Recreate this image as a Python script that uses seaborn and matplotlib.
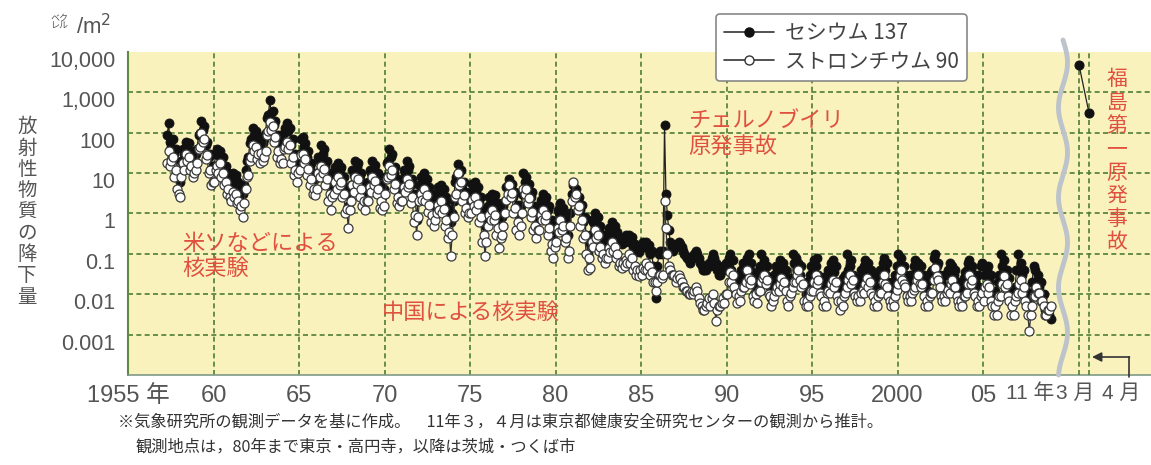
import numpy as np
import pandas as pd
import seaborn as sns
import matplotlib.pyplot as plt
from matplotlib.lines import Line2D
from matplotlib import transforms
from matplotlib.ticker import NullLocator

# 月別降下量 (1957年4月〜2008年12月)
years = list(range(1957, 2009))
first_month = 4

# セシウム137 (Bq/m2)
cs137_1950s = [90, 170, 60, 45, 70, 30, 40, 12, 8,
               6, 20, 40, 30, 60, 40, 55, 30, 35, 20, 25, 30,
               40, 90, 100, 200, 120, 150, 50, 60, 25, 30, 12, 15]
cs137_1960s = [15, 30, 40, 28, 35, 20, 25, 12, 15, 8, 10, 6,
               6, 10, 7, 9, 5, 6, 3.5, 4.5, 3, 5, 12, 20,
               25, 55, 70, 130, 90, 110, 60, 75, 45, 80, 55, 70,
               100, 230, 280, 630, 300, 350, 160, 200, 70, 90, 45, 60,
               45, 100, 130, 170, 110, 130, 50, 70, 25, 30, 15, 25,
               30, 70, 80, 45, 55, 25, 35, 15, 18, 8, 10, 7,
               10, 25, 20, 50, 30, 40, 15, 20, 7, 10, 5, 8,
               8, 14, 10, 18, 12, 14, 6, 8, 3, 4, 1.5, 3,
               5, 12, 9, 20, 14, 18, 7, 10, 4, 5, 3, 5,
               6, 12, 10, 20, 13, 16, 8, 10, 3.5, 5, 2.5, 4]
cs137_1970s = [8, 18, 20, 40, 25, 30, 10, 14, 5, 7, 4, 6,
               6, 12, 10, 20, 12, 15, 5, 7, 2, 3, 0.7, 2,
               5, 8, 6, 10, 5, 7, 3, 4.5, 2, 3, 1.5, 2.5,
               3, 4.5, 3.5, 5, 3, 4, 1.8, 2.5, 1, 1.3, 0.6, 1,
               2, 6, 8, 17, 10, 12, 4, 6, 2.5, 3.5, 2, 3,
               3, 5.5, 4, 6, 3.5, 4.5, 1.8, 2.5, 0.9, 1.2, 0.5, 0.8,
               1.5, 2.5, 2, 3, 2, 2.8, 1.2, 1.8, 0.6, 1, 0.8, 1.5,
               2, 4.5, 5, 7, 4, 5.5, 2.5, 3.5, 1.2, 1.6, 0.9, 1.5,
               3, 10, 6, 8, 4, 5.5, 2.5, 3.5, 1.2, 1.5, 0.8, 1,
               1, 2.2, 1.8, 3, 2, 2.5, 1.2, 1.5, 0.5, 0.7, 0.3, 0.5]
cs137_1980s = [0.5, 1.2, 1, 1.8, 1.1, 1.4, 0.5, 0.7, 0.3, 0.5, 1, 3,
               5, 3, 4, 2, 2.5, 1.2, 1.6, 0.6, 0.8, 0.3, 0.1, 0.2,
               0.3, 0.7, 0.6, 1, 0.7, 0.8, 0.4, 0.5, 0.25, 0.3, 0.2, 0.3,
               0.3, 0.45, 0.4, 0.6, 0.4, 0.5, 0.3, 0.35, 0.2, 0.25, 0.18, 0.25,
               0.2, 0.3, 0.22, 0.3, 0.2, 0.26, 0.15, 0.18, 0.12, 0.15, 0.11, 0.15,
               0.15, 0.2, 0.16, 0.2, 0.14, 0.17, 0.1, 0.12, 0.05, 0.04, 0.008, 0.05,
               0.1, 0.12, 0.1, 0.12, 155, 3, 0.9, 0.4, 0.2, 0.15, 0.12, 0.15,
               0.15, 0.18, 0.2, 0.18, 0.15, 0.12, 0.1, 0.09, 0.08, 0.07, 0.06, 0.08,
               0.08, 0.1, 0.12, 0.1, 0.08, 0.06, 0.05, 0.04, 0.04, 0.04, 0.05, 0.06,
               0.05, 0.08, 0.1, 0.08, 0.06, 0.04, 0.03, 0.03, 0.04, 0.05, 0.04, 0.06]
cs137_1990s = [0.05, 0.08, 0.1, 0.04, 0.07, 0.03, 0.02, 0.012, 0.03, 0.02, 0.04, 0.06,
               0.06, 0.03, 0.08, 0.1, 0.04, 0.06, 0.02, 0.01, 0.03, 0.015, 0.04, 0.05,
               0.1, 0.05, 0.07, 0.03, 0.05, 0.02, 0.015, 0.008, 0.02, 0.03, 0.05, 0.04,
               0.04, 0.07, 0.05, 0.06, 0.03, 0.04, 0.015, 0.012, 0.025, 0.02, 0.1, 0.06,
               0.08, 0.04, 0.06, 0.03, 0.05, 0.02, 0.015, 0.01, 0.02, 0.015, 0.03, 0.05,
               0.04, 0.07, 0.05, 0.08, 0.03, 0.025, 0.015, 0.012, 0.025, 0.015, 0.03, 0.04,
               0.03, 0.06, 0.07, 0.035, 0.05, 0.02, 0.015, 0.008, 0.02, 0.025, 0.015, 0.03,
               0.1, 0.04, 0.05, 0.07, 0.03, 0.025, 0.012, 0.02, 0.015, 0.025, 0.04, 0.03,
               0.05, 0.07, 0.04, 0.06, 0.03, 0.04, 0.015, 0.01, 0.025, 0.015, 0.03, 0.04,
               0.03, 0.06, 0.08, 0.04, 0.06, 0.02, 0.012, 0.008, 0.02, 0.01, 0.03, 0.05]
cs137_2000s = [0.1, 0.05, 0.08, 0.04, 0.05, 0.03, 0.02, 0.012, 0.03, 0.015, 0.03, 0.05,
               0.07, 0.04, 0.06, 0.03, 0.05, 0.02, 0.03, 0.01, 0.02, 0.012, 0.025, 0.035,
               0.04, 0.08, 0.1, 0.05, 0.06, 0.03, 0.02, 0.012, 0.03, 0.015, 0.03, 0.04,
               0.06, 0.04, 0.05, 0.03, 0.04, 0.015, 0.02, 0.01, 0.015, 0.01, 0.025, 0.035,
               0.04, 0.06, 0.07, 0.04, 0.05, 0.03, 0.02, 0.01, 0.03, 0.015, 0.05, 0.06,
               0.05, 0.03, 0.04, 0.05, 0.02, 0.03, 0.012, 0.007, 0.012, 0.008, 0.02, 0.03,
               0.1, 0.05, 0.07, 0.03, 0.04, 0.015, 0.025, 0.007, 0.012, 0.01, 0.015, 0.04,
               0.1, 0.04, 0.06, 0.03, 0.04, 0.015, 0.012, 0.006, 0.008, 0.01, 0.02, 0.05,
               0.04, 0.02, 0.03, 0.015, 0.02, 0.008, 0.01, 0.004, 0.005, 0.003, 0.003, 0.0025]

# ストロンチウム90 (Bq/m2)
sr90_1950s = [18, 35, 15, 20, 25, 8, 12, 4, 3,
              2.5, 8, 18, 12, 30, 20, 25, 12, 15, 8, 10, 12,
              18, 40, 45, 100, 60, 70, 22, 28, 10, 12, 5, 6]
sr90_1960s = [6, 12, 15, 10, 18, 8, 10, 5, 6, 3, 4, 2.5,
              2, 3.5, 2.5, 3, 1.8, 2, 1.2, 1.5, 0.8, 1.8, 4, 8,
              9, 20, 25, 50, 35, 45, 22, 30, 18, 32, 20, 25,
              35, 90, 110, 180, 120, 150, 60, 80, 25, 35, 18, 22,
              18, 40, 45, 60, 40, 50, 18, 25, 9, 12, 6, 10,
              12, 28, 30, 18, 22, 9, 13, 5, 7, 3, 4, 2.8,
              4, 10, 8, 15, 10, 13, 5, 7, 2, 3, 1.2, 2.5,
              3, 6, 4, 8, 5, 6, 2.5, 3, 1, 1.3, 0.45, 1.2,
              2, 5, 3.5, 8, 5.5, 7, 2.5, 4, 1.5, 2, 1.2, 2,
              2, 4.5, 3.5, 8, 5, 6.5, 3, 4, 1.4, 2, 1.2, 1.5]
sr90_1970s = [3, 7, 8, 15, 9, 12, 4, 5.5, 1.8, 2.5, 1.5, 2,
              2, 4.5, 3.5, 7, 4.5, 5.5, 1.8, 2.5, 0.6, 0.9, 0.3, 0.8,
              2, 3, 2.2, 4, 2, 2.8, 1.1, 1.6, 0.6, 0.9, 0.5, 0.7,
              1, 1.6, 1.2, 2, 1, 1.3, 0.5, 0.7, 0.25, 0.35, 0.09, 0.3,
              0.8, 2.5, 3, 10, 5, 6, 2, 2.8, 1, 1.4, 0.8, 1,
              1, 2.2, 1.5, 2.5, 1.2, 1.7, 0.6, 0.8, 0.2, 0.3, 0.09, 0.2,
              0.5, 0.9, 0.7, 1.2, 0.7, 0.9, 0.3, 0.45, 0.14, 0.25, 0.3, 0.5,
              1, 2.2, 3, 5, 2.5, 3.2, 1, 1.4, 0.4, 0.6, 0.3, 0.5,
              1, 4, 3, 4, 1.8, 2.4, 0.8, 1.1, 0.4, 0.5, 0.25, 0.4,
              0.4, 0.9, 0.7, 1.2, 0.7, 0.9, 0.3, 0.45, 0.12, 0.18, 0.08, 0.15]
sr90_1980s = [0.2, 0.45, 0.35, 0.7, 0.4, 0.5, 0.2, 0.25, 0.08, 0.12, 0.5, 2,
              6, 2.5, 3, 1.2, 1.5, 0.5, 0.7, 0.25, 0.3, 0.1, 0.04, 0.08,
              0.045, 0.2, 0.15, 0.4, 0.25, 0.3, 0.12, 0.15, 0.08, 0.1, 0.06, 0.08,
              0.08, 0.14, 0.11, 0.2, 0.12, 0.15, 0.08, 0.1, 0.05, 0.06, 0.045, 0.06,
              0.05, 0.07, 0.06, 0.1, 0.06, 0.08, 0.04, 0.05, 0.03, 0.04, 0.028, 0.04,
              0.03, 0.045, 0.04, 0.06, 0.04, 0.05, 0.03, 0.035, 0.02, 0.02, 0.012, 0.02,
              0.03, 0.03, 0.025, 0.03, 2, 0.45, 0.1, 0.05, 0.04, 0.03, 0.03, 0.03,
              0.02, 0.025, 0.03, 0.025, 0.02, 0.015, 0.015, 0.012, 0.012, 0.01, 0.01, 0.012,
              0.01, 0.012, 0.015, 0.012, 0.008, 0.006, 0.005, 0.004, 0.004, 0.005, 0.006, 0.008,
              0.005, 0.008, 0.01, 0.006, 0.0022, 0.004, 0.005, 0.005, 0.006, 0.008, 0.006, 0.01]
sr90_1990s = [0.01, 0.02, 0.035, 0.02, 0.03, 0.015, 0.01, 0.006, 0.009, 0.007, 0.012, 0.015,
              0.015, 0.02, 0.04, 0.025, 0.018, 0.022, 0.009, 0.007, 0.01, 0.006, 0.012, 0.012,
              0.02, 0.025, 0.03, 0.018, 0.022, 0.01, 0.009, 0.005, 0.007, 0.009, 0.012, 0.015,
              0.012, 0.018, 0.025, 0.015, 0.02, 0.012, 0.007, 0.005, 0.009, 0.011, 0.015, 0.02,
              0.02, 0.03, 0.04, 0.022, 0.015, 0.018, 0.007, 0.005, 0.007, 0.005, 0.009, 0.012,
              0.012, 0.02, 0.03, 0.018, 0.022, 0.011, 0.009, 0.005, 0.007, 0.005, 0.011, 0.012,
              0.011, 0.018, 0.022, 0.015, 0.02, 0.009, 0.007, 0.004, 0.007, 0.005, 0.009, 0.011,
              0.015, 0.022, 0.03, 0.018, 0.022, 0.011, 0.009, 0.007, 0.009, 0.007, 0.011, 0.013,
              0.011, 0.018, 0.025, 0.015, 0.02, 0.011, 0.009, 0.005, 0.007, 0.005, 0.009, 0.011,
              0.011, 0.02, 0.03, 0.018, 0.015, 0.009, 0.007, 0.005, 0.007, 0.005, 0.009, 0.013]
sr90_2000s = [0.018, 0.028, 0.04, 0.022, 0.018, 0.015, 0.009, 0.007, 0.009, 0.007, 0.011, 0.013,
              0.015, 0.022, 0.03, 0.018, 0.015, 0.018, 0.009, 0.005, 0.007, 0.005, 0.009, 0.011,
              0.011, 0.022, 0.045, 0.028, 0.022, 0.015, 0.009, 0.007, 0.009, 0.007, 0.011, 0.013,
              0.011, 0.018, 0.022, 0.015, 0.015, 0.009, 0.007, 0.005, 0.007, 0.005, 0.009, 0.009,
              0.011, 0.018, 0.03, 0.018, 0.022, 0.011, 0.009, 0.005, 0.007, 0.005, 0.009, 0.011,
              0.007, 0.015, 0.018, 0.011, 0.015, 0.007, 0.005, 0.003, 0.005, 0.003, 0.007, 0.009,
              0.009, 0.018, 0.028, 0.015, 0.018, 0.009, 0.007, 0.003, 0.005, 0.003, 0.007, 0.009,
              0.011, 0.018, 0.022, 0.011, 0.015, 0.007, 0.005, 0.003, 0.0012, 0.003, 0.005, 0.009,
              0.009, 0.015, 0.011, 0.011, 0.007, 0.007, 0.005, 0.003, 0.003, 0.004, 0.004, 0.005]

# 福島第一原発事故 (2011年3月, 4月)
fuku_months = ['3 月', '4 月']
fuku_cs137 = [4800, 310]

yticks = [1e-3, 1e-2, 1e-1, 1, 10, 100, 1000, 10000]
ytick_labels = ['0.001', '0.01', '0.1', '1', '10', '100', '1,000', '10,000']
xticks = [1955, 1960, 1965, 1970, 1975, 1980, 1985, 1990, 1995, 2000, 2005]
xtick_labels = ['1955 年', '60', '65', '70', '75', '80', '85', '90', '95', '2000', '05']

t = []
for y in years:
    for m in range(first_month if y == years[0] else 1, 13):
        t.append(y + (m - 0.5) / 12)
df = pd.DataFrame({
    't': t,
    'cs': cs137_1950s + cs137_1960s + cs137_1970s + cs137_1980s + cs137_1990s + cs137_2000s,
    'sr': sr90_1950s + sr90_1960s + sr90_1970s + sr90_1980s + sr90_1990s + sr90_2000s,
})

sns.set_style('white')
plt.rcParams['font.family'] = ['Liberation Sans', 'Noto Sans CJK JP', 'DejaVu Sans']

W, H = 1151, 465
fig = plt.figure(figsize=(W / 100, H / 100), dpi=100)


def px(x0, y0, w, h):
    return [x0 / W, 1 - (y0 + h) / H, w / W, h / H]


def ftext(x, y, s, **kw):
    fig.text(x / W, 1 - y / H, s, **kw)


grid_c = '#4f7d33'
red = '#e0503f'
grey = '#555555'
cjk = ['Noto Sans CJK JP', 'DejaVu Sans']

ax = fig.add_axes(px(128, 52, 1023, 323))
ax.set_facecolor('#f9f2bd')
ax.set_yscale('log')
ax.set_ylim(1e-4, 1e4)
ax.set_xlim(1955, 1955 + 1023 / 17.1)
ax.yaxis.set_minor_locator(NullLocator())
ax.set_yticks(yticks)
ax.set_yticklabels(ytick_labels, fontsize=15.5, color=grey)
ax.set_xticks(xticks)
ax.set_xticklabels(xtick_labels, fontsize=17, color=grey)
ax.tick_params(axis='y', length=0, pad=9)
ax.tick_params(axis='x', length=0, pad=7)
off = transforms.ScaledTranslation(0, -5 / 72, fig.dpi_scale_trans)
for lab in ax.get_yticklabels():
    lab.set_transform(lab.get_transform() + off)
for v in yticks[:-1]:
    ax.axhline(v, color=grid_c, ls=(0, (3, 2)), lw=1.2, zorder=1)
for v in xticks[1:]:
    ax.axvline(v, color=grid_c, ls=(0, (3, 2)), lw=1.2, zorder=1)
for s in ['top', 'right']:
    ax.spines[s].set_visible(False)
ax.spines['left'].set_color('#5e8a45')
ax.spines['left'].set_linewidth(1.5)
ax.spines['bottom'].set_color('#7f9a86')
ax.spines['bottom'].set_linewidth(1.2)

sns.lineplot(data=df, x='t', y='cs', ax=ax, color='#222222', lw=0.9, marker='o',
             markersize=6.5, markerfacecolor='#111111', markeredgecolor='#111111',
             markeredgewidth=0.6, estimator=None, sort=False, zorder=3)
sns.lineplot(data=df, x='t', y='sr', ax=ax, color='#333333', lw=0.9, marker='o',
             markersize=6.5, markerfacecolor='white', markeredgecolor='#3a3a3a',
             markeredgewidth=0.9, estimator=None, sort=False, zorder=4)
ax.set_xlabel('')
ax.set_ylabel('')

# 2011年3月・4月の区画
ax2 = fig.add_axes(px(1068, 52, 83, 323))
ax2.set_facecolor('none')
ax2.set_yscale('log')
ax2.set_ylim(1e-4, 1e4)
ax2.set_xlim(-1.1, 7.2)
ax2.axis('off')
fx = np.arange(len(fuku_months))
for v in fx:
    ax2.axvline(v, color=grid_c, ls=(0, (3, 2)), lw=1.2, zorder=1)
sns.lineplot(x=fx, y=fuku_cs137, ax=ax2, color='#222222', lw=0.9, marker='o',
             markersize=6.5, markerfacecolor='#111111', markeredgecolor='#111111',
             estimator=None, zorder=3)

# 波線 (省略記号)
ys = np.linspace(40, 375, 300)
xs = 1063 + 4.5 * np.sin((ys - 40) / 90 * 2 * np.pi)
fig.add_artist(Line2D(xs / W, 1 - ys / H, transform=fig.transFigure,
                      color='#bcc3ca', lw=3.5, zorder=10))

# 軸ラベル・単位
ftext(27, 212, '\n'.join('放射性物質の降下量'), fontsize=14, color=grey,
      ha='center', va='center', linespacing=1.02, family=cjk)
ftext(60, 22, 'ベク\nレル', fontsize=6.5, color=grey, ha='center', va='center',
      linespacing=0.95, family=cjk)
ftext(94, 27, '/m$^2$', fontsize=16, color=grey, ha='center', va='center')

# x軸の追加ラベル
xl = dict(fontsize=15, color=grey, ha='left', va='center')
ftext(1006, 393, '11 年', **xl)
ftext(1056, 393, '3 月', **xl)
ftext(1102, 393, '4 月', **xl)
fig.add_artist(Line2D([1129 / W, 1129 / W], [1 - 377 / H, 1 - 357 / H],
                      transform=fig.transFigure, color='#333333', lw=1.2))
ax.annotate('', xy=(1092, H - 357), xytext=(1129.5, H - 357),
            xycoords='figure pixels', textcoords='figure pixels',
            arrowprops=dict(arrowstyle='-|>', color='#333333', lw=1.2,
                            mutation_scale=14, shrinkA=0, shrinkB=0))

# 注記
ann = dict(fontsize=16, color=red, va='center', family=cjk)
ftext(182, 243, '米ソなどによる', **ann)
ftext(182, 268, '核実験', **ann)
ftext(382, 312, '中国による核実験', **ann)
ftext(688, 120, 'チェルノブイリ', **ann)
ftext(688, 147, '原発事故', **ann)
ftext(1117, 161, '\n'.join('福島第一原発事故'), fontsize=15, color=red,
      ha='center', va='center', linespacing=1.08, family=cjk)

# 凡例
handles = [
    Line2D([0], [0], color='#333333', lw=1.2, marker='o', ms=6.5,
           mfc='#111111', mec='#111111'),
    Line2D([0], [0], color='#333333', lw=1.2, marker='o', ms=6.5,
           mfc='white', mec='#333333'),
]
leg = fig.legend(handles, ['セシウム 137', 'ストロンチウム 90'], loc='upper left',
                 bbox_to_anchor=(716 / W, 1 - 14 / H), borderaxespad=0,
                 prop={'family': cjk, 'size': 15}, frameon=True,
                 fancybox=True, edgecolor='#888888', framealpha=1, handlelength=2.4,
                 borderpad=0.4, labelspacing=0.3, handletextpad=0.5)
leg.get_frame().set_linewidth(1.2)
for txt in leg.get_texts():
    txt.set_color('#444444')

# 出典
ftext(118, 422, '※気象研究所の観測データを基に作成。　11年３，４月は東京都健康安全研究センターの観測から推計。',
      fontsize=11.7, color='#333333', va='center', family=cjk)
ftext(136, 447, '観測地点は，80年まで東京・高円寺，以降は茨城・つくば市',
      fontsize=11.7, color='#333333', va='center', family=cjk)

fig.savefig('out.png', dpi=100)
